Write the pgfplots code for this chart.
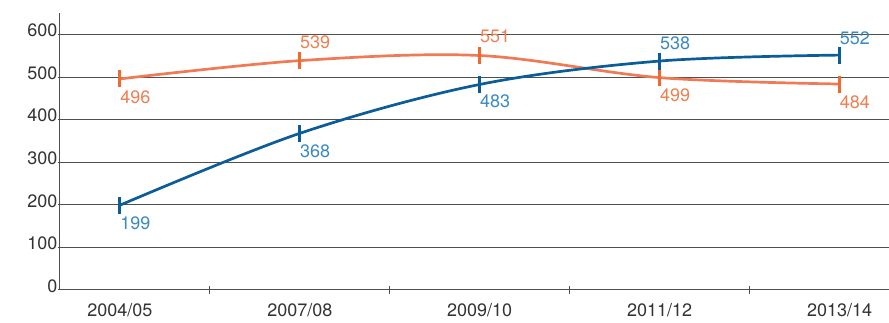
\documentclass[border=0pt]{standalone}
\usepackage{fontspec}
\setmainfont{TeX Gyre Heros}
\usepackage{pgfplots}
\usepackage{pgfplotstable}
\pgfplotsset{compat=1.18}

\definecolor{bline}{HTML}{0B5C97}
\definecolor{btext}{HTML}{3A89C4}
\definecolor{oline}{HTML}{EF7A55}
\definecolor{omark}{HTML}{EE6A2E}
\definecolor{otext}{HTML}{F07E50}
\definecolor{gridc}{HTML}{505050}
\definecolor{txt}{HTML}{333333}

% x = category index, y = value, dy = vertical offset of the value label (pt)
\pgfplotstableread{
x y dy
0 199 -18
1 368 -18
2 483 -17
3 538 18
4 552 17
}\blueseries
\pgfplotstableread{
x y dy
0 496 -18
1 539 18
2 551 19
3 499 -18
4 484 -18
}\orangeseries

\newcommand{\lblfont}{\fontsize{18}{20}\selectfont}

\begin{document}
\begin{tikzpicture}
\begin{axis}[
  name=ax,
  scale only axis,
  width=829pt, height=277pt,
  xmin=-0.333, xmax=4.272,
  ymin=0, ymax=651,
  axis x line=bottom, axis y line=left,
  axis line style={-, draw=gridc, line width=1pt},
  ytick={0,100,...,600},
  ymajorgrids,
  grid style={draw=gridc, line width=1pt},
  ytick style={draw=gridc, line width=1pt},
  major tick length=3pt,
  yticklabel style={font=\lblfont, text=txt, inner sep=1pt, yshift=4pt},
  xtick={0,1,2,3,4},
  xticklabels={2004/05,2007/08,2009/10,2011/12,2013/14},
  xtick style={draw=none},
  xticklabel style={font=\lblfont, text=txt, yshift=-9pt},
  extra x ticks={0.5,1.5,2.5,3.5},
  extra x tick labels={},
  extra x tick style={xtick style={draw=gridc, line width=1pt}, major tick length=8pt, tick align=center},
  /pgf/number format/assume math mode=true,
  clip=false,
  nodes near coords,
  point meta=y,
  visualization depends on={\thisrow{dy} \as \dy},
]
\addplot[color=oline, line width=2.7pt, smooth, tension=0.55,
  mark=|, mark size=8.5pt, mark options={color=omark, line width=2.8pt},
  nodes near coords style={anchor=west, xshift=-1pt, yshift=\dy pt, text=otext,
    font=\lblfont, inner sep=0pt}]
  table[x=x, y=y] {\orangeseries};
\addplot[color=bline, line width=2.7pt, smooth, tension=0.55,
  mark=|, mark size=8.5pt, mark options={color=bline, line width=2.8pt},
  nodes near coords style={anchor=west, xshift=-1pt, yshift=\dy pt, text=btext,
    font=\lblfont, inner sep=0pt}]
  table[x=x, y=y] {\blueseries};
\end{axis}
\path ([xshift=-60pt, yshift=-33pt]ax.south west) rectangle ([yshift=13pt]ax.north east);
\end{tikzpicture}
\end{document}
